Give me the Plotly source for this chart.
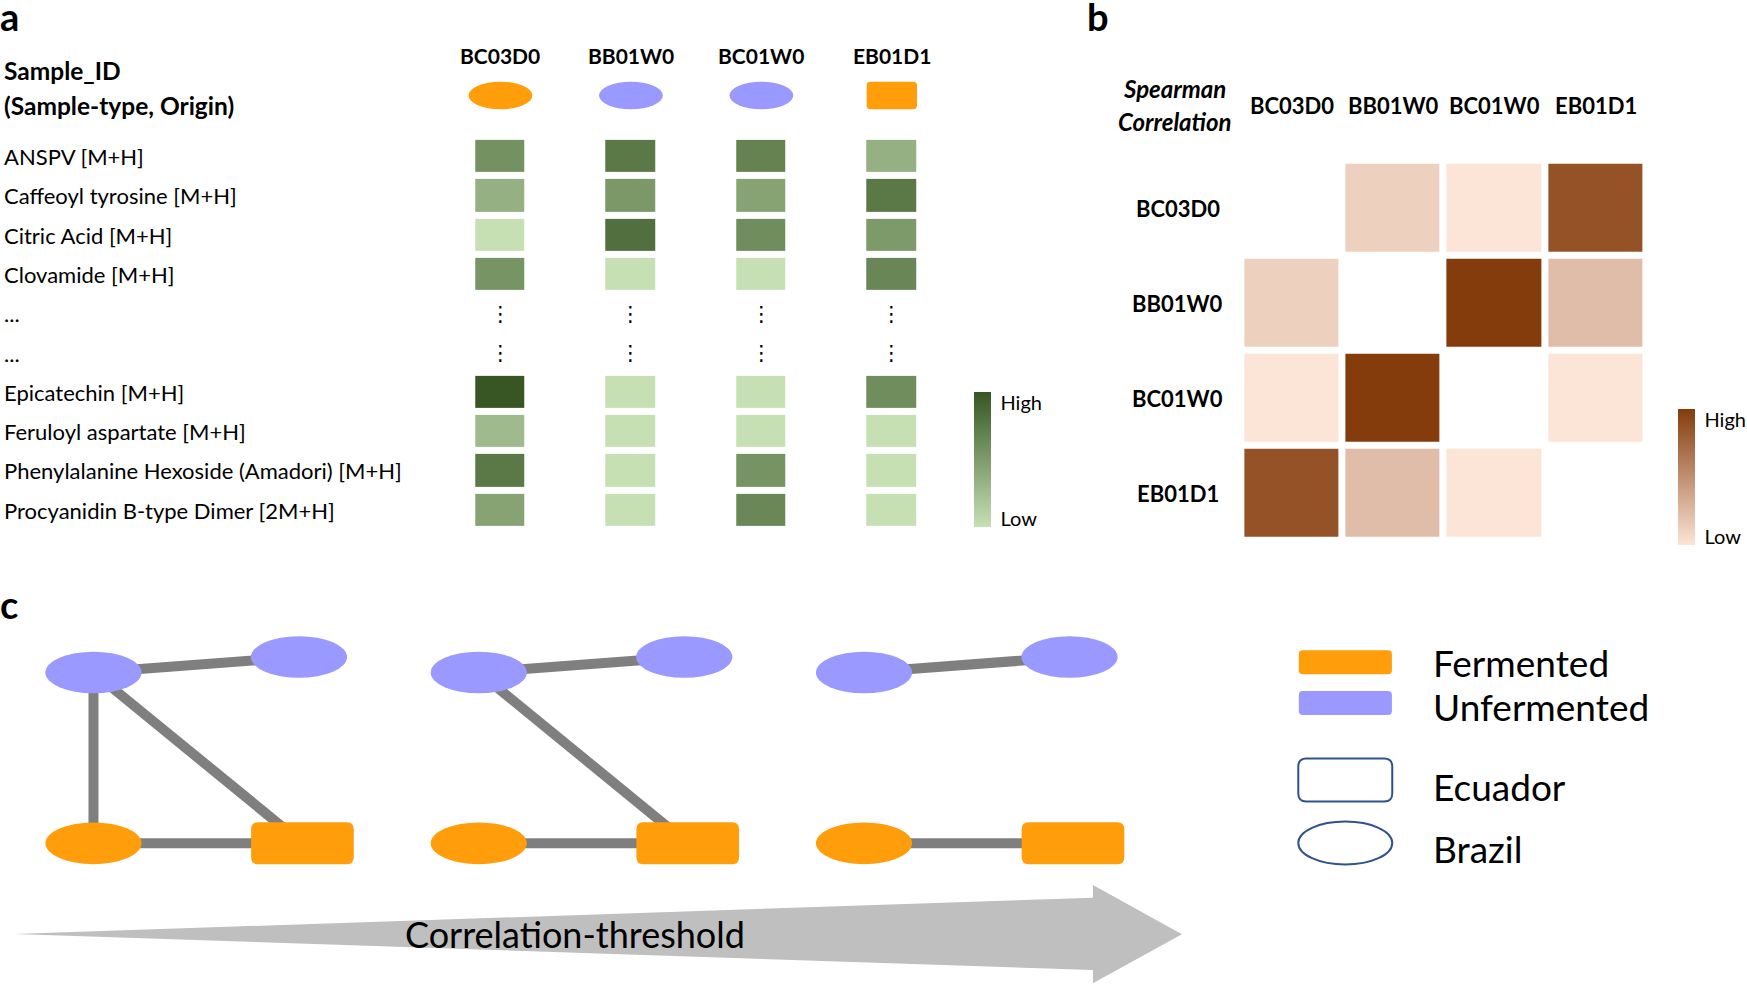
import plotly.graph_objects as go

W, H = 1747, 984

# ---------------- data ----------------
samples = ["BC03D0", "BB01W0", "BC01W0", "EB01D1"]
sample_type = ["Fermented", "Unfermented", "Unfermented", "Fermented"]
sample_origin = ["Brazil", "Brazil", "Brazil", "Ecuador"]

metabolites = [
    "ANSPV [M+H]",
    "Caffeoyl tyrosine [M+H]",
    "Citric Acid [M+H]",
    "Clovamide [M+H]",
    "...",
    "...",
    "Epicatechin [M+H]",
    "Feruloyl aspartate [M+H]",
    "Phenylalanine Hexoside (Amadori) [M+H]",
    "Procyanidin B-type Dimer [2M+H]",
]
# relative intensity (0 = low, 1 = high), columns follow `samples`
intensity = [
    [0.57, 0.75, 0.68, 0.34],
    [0.34, 0.52, 0.44, 0.75],
    [0.00, 0.81, 0.60, 0.51],
    [0.55, 0.00, 0.00, 0.65],
    [None, None, None, None],
    [None, None, None, None],
    [1.00, 0.00, 0.00, 0.60],
    [0.27, 0.00, 0.00, 0.00],
    [0.75, 0.00, 0.56, 0.00],
    [0.44, 0.00, 0.64, 0.00],
]
# relative Spearman correlation (0 = low, 1 = high)
correlation = [
    [None, 0.12, 0.00, 0.87],
    [0.12, None, 1.00, 0.23],
    [0.00, 1.00, None, 0.00],
    [0.87, 0.23, 0.00, None],
]
thresholds = [0.10, 0.15, 0.30]
legend_types = ["Fermented", "Unfermented"]
legend_origins = ["Ecuador", "Brazil"]

# ---------------- style / layout ----------------
FONT = "Lato"
ORANGE = "#FF9D0A"
PURPLE = "#9999FF"
EDGE = "#7F7F7F"
ARROW = "#BFBFBF"
OUTLINE = "#2F528F"
TYPE_COLOR = {"Fermented": ORANGE, "Unfermented": PURPLE}
green_scale = [[0, "#C6E0B4"], [1, "#375623"]]
brown_scale = [[0, "#FCE4D6"], [1, "#843C0C"]]

A_X0, A_X1 = 436.75, 960.35
A_Y0, A_Y1 = 136.85, 529.85
B_X0, B_X1 = 1245.65, 1651.95
B_Y0, B_Y1 = 160.75, 540.95

NODE_POS = {"BB01W0": (93.8, 672.5), "BC01W0": (300.0, 657.0),
            "BC03D0": (93.8, 843.3), "EB01D1": (303.5, 843.3)}
GRAPH_DX = 386.6


def fx(x):
    return x / W


def fy(y):
    return 1 - y / H


def rrect_path(x0, y0, x1, y1, r):
    return (f"M{x0 + r},{y0} L{x1 - r},{y0} Q{x1},{y0} {x1},{y0 + r} "
            f"L{x1},{y1 - r} Q{x1},{y1} {x1 - r},{y1} L{x0 + r},{y1} "
            f"Q{x0},{y1} {x0},{y1 - r} L{x0},{y0 + r} Q{x0},{y0} {x0 + r},{y0} Z")


shapes = []
annotations = []


def node_shape(cx, cy, w, h, origin, fill, line_color=None, r=6):
    line = dict(width=0) if line_color is None else dict(color=line_color, width=2)
    fc = fill if fill else "rgba(0,0,0,0)"
    if origin == "Brazil":
        shapes.append(dict(type="circle", xref="x", yref="y", x0=cx - w / 2, x1=cx + w / 2,
                           y0=cy - h / 2, y1=cy + h / 2, fillcolor=fc, line=line, layer="above"))
    else:
        shapes.append(dict(type="path", xref="x", yref="y",
                           path=rrect_path(cx - w / 2, cy - h / 2, cx + w / 2, cy + h / 2, r),
                           fillcolor=fc, line=line, layer="above"))


def text(x, y, s, size, xanchor="left", xref="x", yref="y", color="black", family=FONT, xshift=0):
    annotations.append(dict(x=x, y=y, xref=xref, yref=yref, text=s, showarrow=False,
                            xanchor=xanchor, yanchor="middle", xshift=xshift,
                            font=dict(family=family, size=size, color=color)))


fig = go.Figure()

# ---------- panel a ----------
cb_common = dict(thickness=17, lenmode="pixels", xanchor="left", yanchor="middle",
                 xpad=0, ypad=0, outlinewidth=0, tickvals=[0.92, 0.06], ticktext=["High", "Low"],
                 ticks="outside", ticklen=6, tickcolor="rgba(0,0,0,0)",
                 tickfont=dict(family=FONT, size=20, color="black"))
fig.add_trace(go.Heatmap(
    z=intensity, x=samples, y=list(range(len(metabolites))),
    xaxis="x2", yaxis="y2", colorscale=green_scale, zmin=0, zmax=1,
    xgap=81, ygap=7, hoverongaps=False,
    colorbar=dict(x=fx(977), y=fy((392 + 526.7) / 2), len=134.7, **cb_common),
))
for i, m in enumerate(metabolites):
    text(2, i, m, 22, yref="y2")
    if m == "...":
        for s in samples:
            annotations.append(dict(x=s, y=i, xref="x2", yref="y2", text="⋮", showarrow=False,
                                    font=dict(family="DejaVu Sans", size=21, color="black")))
text(2, 70.5, "<b>Sample_ID</b>", 24.5)
text(2, 105.5, "<b>(Sample-type, Origin)</b>", 24.5)
a_pitch = (A_X1 - A_X0) / len(samples)
for i, s in enumerate(samples):
    text(s, 55, f"<b>{s}</b>", 21, xanchor="center", xref="x2")
    cx = A_X0 + (i + 0.5) * a_pitch
    if sample_origin[i] == "Brazil":
        node_shape(cx, 95.5, 64, 27.6, "Brazil", TYPE_COLOR[sample_type[i]])
    else:
        node_shape(cx, 95.5, 50.5, 27.6, "Ecuador", TYPE_COLOR[sample_type[i]], r=4)

# ---------- panel b ----------
fig.add_trace(go.Heatmap(
    z=correlation, x=samples, y=samples,
    xaxis="x3", yaxis="y3", colorscale=brown_scale, zmin=0, zmax=1,
    xgap=7, ygap=7, hoverongaps=False,
    colorbar=dict(x=fx(1684), y=fy((409.3 + 545) / 2), len=135.7, **cb_common),
))
text(1178.7, 88.5, "<b><i>Spearman</i></b>", 24, xanchor="center")
text(1178.7, 121.5, "<b><i>Correlation</i></b>", 24, xanchor="center")
for s in samples:
    text(s, 105, f"<b>{s}</b>", 22, xanchor="center", xref="x3")
    text(1182, s, f"<b>{s}</b>", 22, xanchor="center", yref="y3")

# ---------- panel c ----------
shapes.append(dict(type="path", xref="x", yref="y", layer="below", fillcolor=ARROW,
                   line=dict(width=0),
                   path="M14.5,934 L1096.7,897.7 L1096.7,885 L1186,934.3 L1096.7,983.3 L1096.7,970 Z"))
text(577, 934, "Correlation-threshold", 36, xanchor="center")

for g, thr in enumerate(thresholds):
    dx = g * GRAPH_DX
    for i in range(len(samples)):
        for j in range(i + 1, len(samples)):
            c = correlation[i][j]
            if c is not None and c > thr:
                (x0, y0), (x1, y1) = NODE_POS[samples[i]], NODE_POS[samples[j]]
                fig.add_trace(go.Scatter(x=[x0 + dx, x1 + dx], y=[y0, y1], mode="lines",
                                         line=dict(color=EDGE, width=10), hoverinfo="skip",
                                         showlegend=False, xaxis="x", yaxis="y"))
    for i, s in enumerate(samples):
        cx, cy = NODE_POS[s]
        if sample_origin[i] == "Brazil":
            node_shape(cx + dx, cy, 96.5, 41.7, "Brazil", TYPE_COLOR[sample_type[i]])
        else:
            node_shape(cx + dx, cy, 103, 42, "Ecuador", TYPE_COLOR[sample_type[i]], r=7)

# legend
leg_y_type = [662.3, 703]
for t, yy in zip(legend_types, leg_y_type):
    shapes.append(dict(type="path", xref="x", yref="y", fillcolor=TYPE_COLOR[t], line=dict(width=0),
                       path=rrect_path(1303.3, yy - 12, 1396.7, yy + 12, 4)))
for t, yy in zip(legend_types, [662.7, 706.7]):
    text(1436, yy, t, 37)
for o, yy, ty in zip(legend_origins, [780, 843], [786.7, 848.3]):
    node_shape(1349.9, yy, 94.3, 43, o, None, line_color=OUTLINE, r=8)
    text(1436, ty, o, 37)

# panel labels
text(0, 16, "<b>a</b>", 38, xshift=-2)
text(1089, 16, "<b>b</b>", 38)
text(0, 604, "<b>c</b>", 38, xshift=-2)

fig.update_layout(
    width=W, height=H, margin=dict(l=0, r=0, t=0, b=0),
    paper_bgcolor="white", plot_bgcolor="rgba(0,0,0,0)", showlegend=False,
    xaxis=dict(range=[0, W], domain=[0, 1], visible=False, fixedrange=True),
    yaxis=dict(range=[H, 0], domain=[0, 1], visible=False, fixedrange=True),
    xaxis2=dict(domain=[fx(A_X0), fx(A_X1)], range=[-0.5, 3.5], visible=False, anchor="y2"),
    yaxis2=dict(domain=[fy(A_Y1), fy(A_Y0)], range=[len(metabolites) - 0.5, -0.5],
                visible=False, anchor="x2"),
    xaxis3=dict(domain=[fx(B_X0), fx(B_X1)], range=[-0.5, 3.5], visible=False, anchor="y3"),
    yaxis3=dict(domain=[fy(B_Y1), fy(B_Y0)], range=[3.5, -0.5], visible=False, anchor="x3"),
    shapes=shapes, annotations=annotations,
)
fig.write_html("out.html", config={"displayModeBar": False},
               post_script="document.body.style.margin='0';")
